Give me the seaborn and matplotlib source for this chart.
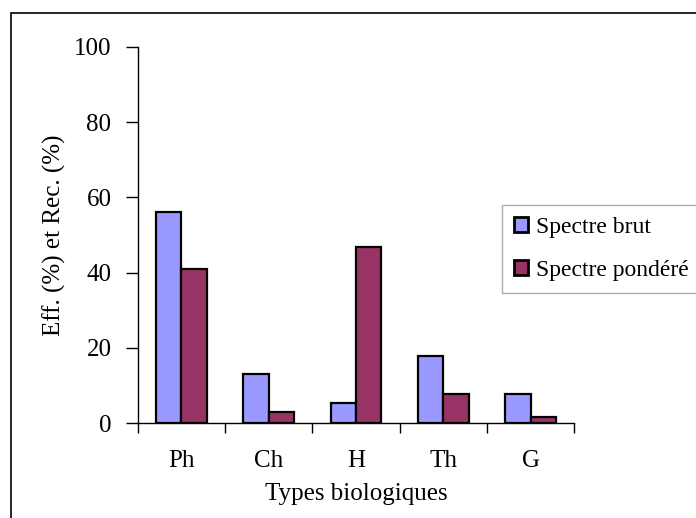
import matplotlib
matplotlib.use("Agg")
import matplotlib.pyplot as plt
from matplotlib.patches import Rectangle
import pandas as pd
import seaborn as sns

# Biological types and their spectra (%)
types = ["Ph", "Ch", "H", "Th", "G"]
spectre_brut = [56.2, 13.2, 5.3, 17.8, 7.7]
spectre_pondere = [40.9, 3.0, 46.8, 7.7, 1.6]
series_names = ["Spectre brut", "Spectre pondéré"]
y_ticks = [0, 20, 40, 60, 80, 100]

df = pd.DataFrame({
    "type": types * 2,
    "valeur": spectre_brut + spectre_pondere,
    "spectre": [series_names[0]] * len(types) + [series_names[1]] * len(types),
})

sns.set_theme(style="white")
plt.rcParams["font.family"] = ["Liberation Serif", "DejaVu Serif"]
plt.rcParams["text.color"] = "black"
plt.rcParams["axes.labelcolor"] = "black"
plt.rcParams["xtick.color"] = "black"
plt.rcParams["ytick.color"] = "black"

FS = 18

fig = plt.figure(figsize=(6.96, 5.18), dpi=100)
ax = fig.add_axes([0.198, 0.1828, 0.627, 0.727])

palette = {series_names[0]: "#9999FF", series_names[1]: "#993366"}
sns.barplot(data=df, x="type", y="valeur", hue="spectre", order=types,
            hue_order=series_names, palette=palette, width=0.58,
            edgecolor="black", linewidth=1.6, saturation=1, ax=ax)

ax.set_ylim(0, 100)
ax.set_xlim(-0.5, len(types) - 0.5)
ax.set_yticks(y_ticks)
ax.set_yticklabels([str(t) for t in y_ticks], fontsize=FS)
ax.set_xticks(range(len(types)))
ax.set_xticklabels(types, fontsize=FS)
ax.set_xticks([i - 0.5 for i in range(len(types) + 1)], minor=True)
ax.tick_params(axis="x", which="major", length=0, pad=19)
ax.tick_params(axis="x", which="minor", length=7, width=1, color="black",
               direction="out", bottom=True)
ax.tick_params(axis="y", which="major", length=9, width=1, color="black",
               direction="out", left=True, pad=10)

ax.set_xlabel("Types biologiques", fontsize=FS, labelpad=8)
ax.set_ylabel("Eff. (%) et Rec. (%)", fontsize=FS, labelpad=6)

for side in ("top", "right"):
    ax.spines[side].set_visible(False)
for side in ("left", "bottom"):
    ax.spines[side].set_color("black")
    ax.spines[side].set_linewidth(1.0)

leg = ax.legend(loc="upper left", bbox_to_anchor=(502 / 696, 1 - 205 / 518),
                bbox_transform=fig.transFigure, fontsize=17, frameon=True,
                fancybox=False, handlelength=0.6, handleheight=0.6,
                handletextpad=0.35, borderpad=0.5, labelspacing=0.95,
                borderaxespad=0)
leg.get_frame().set_edgecolor("#999999")
leg.get_frame().set_linewidth(1.0)
for handle in leg.legend_handles:
    handle.set_linewidth(2.0)

# chart area frame
fig.patches.append(Rectangle((11 / 696, -0.1), 1.2, 1 - 13 / 518 + 0.1,
                             transform=fig.transFigure, fill=False,
                             edgecolor="black", linewidth=1.2))

fig.savefig("out.png", dpi=100)
